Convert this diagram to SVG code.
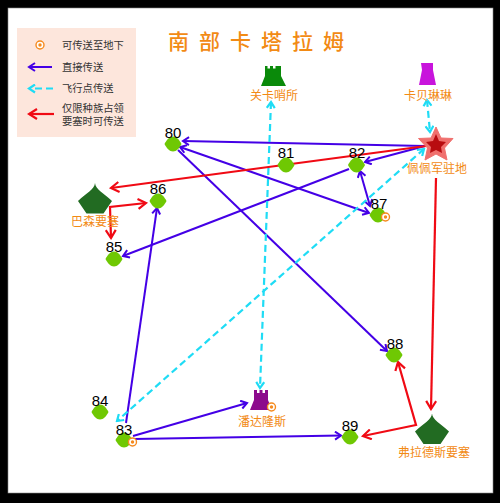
<svg xmlns="http://www.w3.org/2000/svg" width="500" height="503" viewBox="0 0 500 503">
<style>
.cn{font-family:"Noto Sans CJK SC","Liberation Sans",sans-serif}
.lab{font-size:12px;fill:#f28a14;text-anchor:middle}
.leg{font-size:10.300px;fill:#333}
.num{font-family:"Liberation Sans",sans-serif;font-size:15px;fill:#000;text-anchor:middle}
.p{stroke:#4400e6;stroke-width:2;fill:none}
.c{stroke:#1fdcf5;stroke-width:2.200;stroke-dasharray:7 4;fill:none}
.r{stroke:#f00a14;stroke-width:2.200;fill:none}
.blob{fill:#6fc803}
.ring{fill:#fff;stroke:#f58a1e;stroke-width:1.400}
.dot{fill:#f58a1e}
.fort{fill:#226b22}
</style>
<defs>
<marker id="ap" markerWidth="10" markerHeight="10" refX="8" refY="5" orient="auto-start-reverse" markerUnits="userSpaceOnUse"><path d="M2 1L8 5L2 9" fill="none" stroke="#4400e6" stroke-width="2"/></marker>
<marker id="ac" markerWidth="10" markerHeight="10" refX="8" refY="5" orient="auto-start-reverse" markerUnits="userSpaceOnUse"><path d="M2 1L8 5L2 9" fill="none" stroke="#1fdcf5" stroke-width="2.200"/></marker>
<marker id="ar" markerWidth="12" markerHeight="12" refX="10" refY="6" orient="auto-start-reverse" markerUnits="userSpaceOnUse"><path d="M2 1L10 6L2 11" fill="none" stroke="#f00a14" stroke-width="2.200"/></marker>
<path id="b" d="M-8.500 0C-6.500 -4 -3.500 -7.500 0 -7.500C3.500 -7.500 6.500 -4 8.500 0C6.500 4 3.500 7.500 0 7.500C-3.500 7.500 -6.500 4 -8.500 0Z"/>
<path id="f" d="M0 -17.500C0.500 -11 8 -8 17 0.500L8.500 13H-8.500L-17 0.500C-8 -8 -0.500 -11 0 -17.500Z"/>
</defs>
<rect width="500" height="503" fill="#000"/>
<rect x="8" y="8" width="485" height="485" fill="#fff" stroke="#888" stroke-width="0.600"/>

<g id="legend">
<rect x="17" y="28" width="119" height="109" fill="#fde6dc"/>
<circle class="ring" cx="40" cy="45" r="4"/><circle class="dot" cx="40" cy="45" r="1.700"/>
<line class="p" x1="52" y1="67" x2="29" y2="67" marker-end="url(#ap)"/>
<line class="c" x1="53" y1="88.500" x2="29" y2="88.500" marker-end="url(#ac)"/>
<line class="r" x1="54" y1="114" x2="29" y2="114" marker-end="url(#ar)"/>
<text class="cn leg" x="62" y="49">可传送至地下</text>
<text class="cn leg" x="62" y="71">直接传送</text>
<text class="cn leg" x="62" y="92">飞行点传送</text>
<text class="cn leg"><tspan x="62" y="111.500">仅限种族占领</tspan><tspan x="62" y="125">要塞时可传送</tspan></text>
</g>
<text id="title" class="cn" x="168" y="49" font-size="21" font-weight="500" fill="#f28a14" letter-spacing="10">南部卡塔拉姆</text>

<g id="connectors">
<line class="p" x1="425" y1="146" x2="183" y2="141" marker-end="url(#ap)"/>
<line class="p" x1="180" y1="147" x2="369" y2="213" marker-start="url(#ap)" marker-end="url(#ap)"/>
<line class="p" x1="178" y1="150" x2="387" y2="351" marker-end="url(#ap)"/>
<line class="p" x1="425" y1="146" x2="365" y2="162" marker-end="url(#ap)"/>
<line class="p" x1="349" y1="169" x2="123" y2="256" marker-end="url(#ap)"/>
<line class="p" x1="360" y1="171" x2="370" y2="206" marker-start="url(#ap)" marker-end="url(#ap)"/>
<line class="p" x1="126" y1="423" x2="157" y2="208" marker-end="url(#ap)"/>
<line class="p" x1="133" y1="436" x2="247" y2="403" marker-end="url(#ap)"/>
<line class="p" x1="134" y1="439" x2="341" y2="435.500" marker-end="url(#ap)"/>
<line class="c" x1="271" y1="102" x2="260" y2="388" marker-start="url(#ac)" marker-end="url(#ac)"/>
<line class="c" x1="424" y1="149" x2="117" y2="421" marker-start="url(#ac)" marker-end="url(#ac)"/>
<line class="c" x1="427" y1="100" x2="430" y2="132" marker-start="url(#ac)" marker-end="url(#ac)"/>
<line class="r" x1="426" y1="146" x2="111" y2="188" marker-end="url(#ar)"/>
<line class="r" x1="436" y1="178" x2="431" y2="409" marker-end="url(#ar)"/>
<path class="r" d="M146 203L110 207L111 238" marker-start="url(#ar)" marker-end="url(#ar)"/>
<path class="r" d="M398 362L416 425L363 436" marker-start="url(#ar)" marker-end="url(#ar)"/>
</g>

<g id="n80"><use href="#b" class="blob" x="173" y="144"/><text class="num" x="173" y="138">80</text></g>
<g id="n81"><use href="#b" class="blob" x="286" y="165"/><text class="num" x="286" y="158">81</text></g>
<g id="n82"><use href="#b" class="blob" x="356.500" y="165"/><text class="num" x="357" y="158">82</text></g>
<g id="n87"><use href="#b" class="blob" x="378" y="215"/><circle class="ring" cx="385.500" cy="217" r="4"/><circle class="dot" cx="385.500" cy="217" r="1.700"/><text class="num" x="379" y="209">87</text></g>
<g id="n86"><use href="#b" class="blob" x="158" y="201"/><text class="num" x="158" y="194">86</text></g>
<g id="n85"><use href="#b" class="blob" x="114" y="259"/><text class="num" x="114" y="252">85</text></g>
<g id="n84"><use href="#b" class="blob" x="100" y="412"/><text class="num" x="100" y="406">84</text></g>
<g id="n83"><use href="#b" class="blob" x="124" y="440"/><circle class="ring" cx="132.500" cy="442" r="4"/><circle class="dot" cx="132.500" cy="442" r="1.700"/><text class="num" x="124" y="435">83</text></g>
<g id="n88"><use href="#b" class="blob" x="394" y="355"/><text class="num" x="395" y="349">88</text></g>
<g id="n89"><use href="#b" class="blob" x="350" y="437"/><text class="num" x="350" y="431">89</text></g>

<g id="basen"><use href="#f" class="fort" x="95" y="200.500"/><text class="cn lab" x="95" y="226">巴森要塞</text></g>
<g id="frades"><use href="#f" class="fort" x="432" y="431"/><text class="cn lab" x="434" y="457">弗拉德斯要塞</text></g>
<g id="guanka"><path d="M261 86L265 76V66H267.500V68.500H270V66H273V68.500H275.500V66H281V76L286 86Z" fill="#0a8a0a"/><text class="cn lab" x="274" y="100">关卡哨所</text></g>
<g id="kabei"><path d="M421 63H433V70L436 85H419L422 70Z" fill="#c814dc"/><text class="cn lab" x="428" y="100">卡贝琳琳</text></g>
<g id="pandalong"><path d="M250 410L254 400V390H257V393H259.500V390H262.500V393H265V390H268V400L272 410Z" fill="#8c0a8c"/><circle class="ring" cx="271.500" cy="407" r="4"/><circle class="dot" cx="271.500" cy="407" r="1.700"/><text class="cn lab" x="262" y="426">潘达隆斯</text></g>
<g id="peipei"><path d="M436 127L441 138L453 138.500L444.500 148L447 160L436 154L425 160L427.500 148L418.500 138.500L431 138Z" fill="#f0706e" stroke="#f0706e" stroke-width="1"/><path d="M436 134L439 141L446 142L441 147L442 153L436 150L430 153L431 147L426 142L433 141Z" fill="#b80c10"/><text class="cn lab" x="437" y="173">佩佩军驻地</text></g>
</svg>
